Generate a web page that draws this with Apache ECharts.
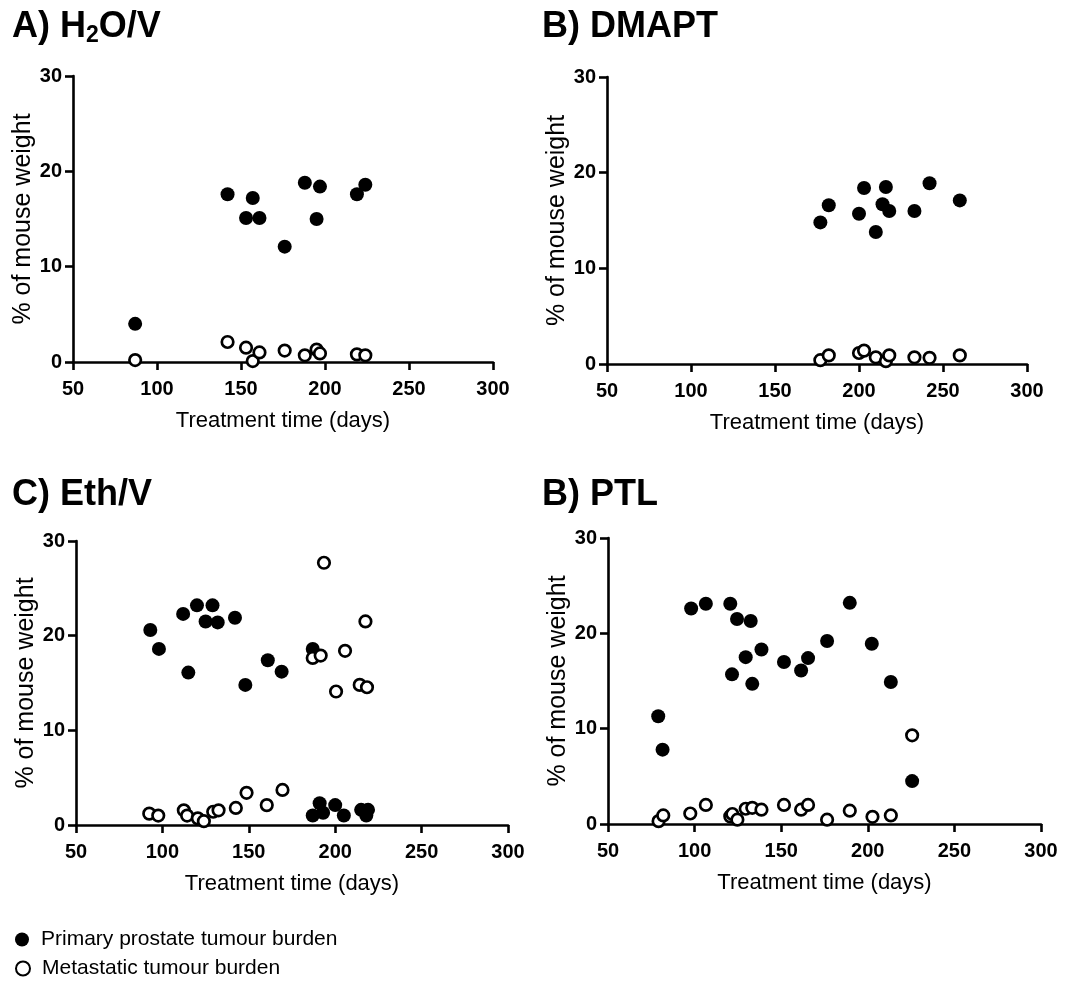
<!DOCTYPE html>
<html>
<head>
<meta charset="utf-8">
<title>Tumour burden over treatment time</title>
<script src="https://cdn.jsdelivr.net/npm/echarts@6/dist/echarts.min.js"></script>
<style>
  html, body { margin: 0; padding: 0; background: #fff; }
  #chart { width: 1068px; height: 982px; }
</style>
</head>
<body>
<div id="chart"></div>
<script>
// Panel titles
const panelTitles = ['{m|A) H}{s|2}{m|O/V}', '{m|B) DMAPT}', '{m|C) Eth/V}', '{m|B) PTL}'];

// Axis ticks
const xTicks = [50, 100, 150, 200, 250, 300];
const yTicks = [0, 10, 20, 30];

// Series names
const primaryName = 'Primary prostate tumour burden';
const metName = 'Metastatic tumour burden';

// A) H2O/V
const aPrimaryDays = [87, 142, 153, 157, 161, 176, 188, 195, 197, 219, 224];
const aPrimaryPct  = [4.0, 17.6, 15.1, 17.2, 15.1, 12.1, 18.8, 15.0, 18.4, 17.6, 18.6];
const aMetDays     = [87, 142, 153, 157, 161, 176, 188, 195, 197, 219, 224];
const aMetPct      = [0.2, 2.1, 1.5, 0.1, 1.0, 1.2, 0.7, 1.3, 0.9, 0.8, 0.7];

// B) DMAPT
const bPrimaryDays = [177, 182, 200, 203, 210, 214, 216, 218, 233, 242, 260];
const bPrimaryPct  = [14.8, 16.6, 15.7, 18.4, 13.8, 16.7, 18.5, 16.0, 16.0, 18.9, 17.1];
const bMetDays     = [177, 182, 200, 203, 210, 216, 218, 233, 242, 260];
const bMetPct      = [0.4, 0.9, 1.15, 1.4, 0.7, 0.3, 0.9, 0.7, 0.65, 0.9];

// C) Eth/V
const cPrimaryDays = [93, 98, 112, 115, 120, 125, 129, 132, 142, 148, 161, 169, 187,
                      187, 191, 193, 200, 205, 215, 219, 218];
const cPrimaryPct  = [20.6, 18.6, 22.3, 16.1, 23.2, 21.5, 23.2, 21.4, 21.9, 14.8, 17.4, 16.2, 18.6,
                      1.0, 2.3, 1.3, 2.1, 1.0, 1.6, 1.6, 1.0];
const cMetDays     = [193.5, 187, 191.6, 205.7, 200.5, 217.5, 214.2, 218.4,
                      92.4, 97.6, 112.4, 114.3, 120.5, 124, 129.4, 132.5, 142.5, 148.7, 160.4, 169.5];
const cMetPct      = [27.7, 17.65, 17.9, 18.4, 14.1, 21.5, 14.8, 14.55,
                      1.2, 1.0, 1.55, 1.0, 0.7, 0.4, 1.4, 1.55, 1.8, 3.4, 2.1, 3.7];

// B) PTL
const dPrimaryDays = [79, 81.5, 98, 106.5, 120.6, 124.5, 132.4, 129.5, 138.6, 121.6, 133.3,
                      151.6, 161.5, 165.5, 176.5, 189.6, 202.3, 213.3, 225.6];
const dPrimaryPct  = [11.3, 7.8, 22.6, 23.1, 23.1, 21.5, 21.3, 17.5, 18.3, 15.7, 14.7,
                      17.0, 16.1, 17.4, 19.2, 23.2, 18.9, 14.9, 4.5];
const dMetDays     = [225.6, 79.2, 81.9, 97.5, 106.5, 120.6, 121.8, 124.7, 129.5, 133.3, 138.6,
                      151.6, 161.5, 165.5, 176.5, 189.6, 202.7, 213.3];
const dMetPct      = [9.3, 0.3, 0.9, 1.1, 2.0, 0.8, 1.05, 0.45, 1.6, 1.7, 1.5,
                      2.0, 1.5, 2.0, 0.45, 1.4, 0.75, 0.9];

const FONT = '"Liberation Sans", Arial, Helvetica, sans-serif';
const INK = '#000';
const AXIS_W = 2.6;

// Layout of the four panels (plot area in px) and their title anchors
const layout = [
  { grid: { left: 73,  top: 76,  width: 420, height: 286 }, title: { left: 12,  top: 7 } },
  { grid: { left: 607, top: 77,  width: 420, height: 287 }, title: { left: 542, top: 7 } },
  { grid: { left: 76,  top: 541, width: 432, height: 284 }, title: { left: 12,  top: 475 } },
  { grid: { left: 608, top: 538, width: 433, height: 286 }, title: { left: 542, top: 475 } }
];

const panelData = [
  [aPrimaryDays, aPrimaryPct, aMetDays, aMetPct],
  [bPrimaryDays, bPrimaryPct, bMetDays, bMetPct],
  [cPrimaryDays, cPrimaryPct, cMetDays, cMetPct],
  [dPrimaryDays, dPrimaryPct, dMetDays, dMetPct]
];

const zip = (xs, ys) => xs.map((x, i) => [x, ys[i]]);

const titleRich = {
  m: { fontSize: 36, fontWeight: 'bold', fontFamily: FONT, color: INK, lineHeight: 40 },
  s: { fontSize: 23, fontWeight: 'bold', fontFamily: FONT, color: INK, lineHeight: 12, verticalAlign: 'bottom' }
};

const legendStyle = {
  orient: 'vertical',
  left: 15,
  padding: 0,
  itemWidth: 28,
  itemHeight: 14,
  selectedMode: false,
  textStyle: { fontSize: 21, color: INK, fontFamily: FONT }
};

const option = {
  animation: false,
  backgroundColor: '#fff',
  title: layout.map((l, i) => ({
    text: panelTitles[i],
    left: l.title.left,
    top: l.title.top,
    padding: 0,
    textStyle: { rich: titleRich }
  })),
  grid: layout.map(l => Object.assign({ containLabel: false }, l.grid)),
  xAxis: layout.map((l, i) => ({
    type: 'value',
    gridIndex: i,
    min: xTicks[0],
    max: xTicks[xTicks.length - 1],
    interval: xTicks[1] - xTicks[0],
    name: 'Treatment time (days)',
    nameLocation: 'middle',
    nameGap: 48,
    nameTextStyle: { fontSize: 22, color: INK, fontFamily: FONT },
    axisLine: { show: true, onZero: false, lineStyle: { color: INK, width: AXIS_W } },
    axisTick: { show: true, inside: false, length: 8, lineStyle: { color: INK, width: AXIS_W } },
    axisLabel: { color: INK, fontSize: 20, fontWeight: 'bold', fontFamily: FONT, margin: 17 },
    splitLine: { show: false }
  })),
  yAxis: layout.map((l, i) => ({
    type: 'value',
    gridIndex: i,
    min: yTicks[0],
    max: yTicks[yTicks.length - 1],
    interval: yTicks[1] - yTicks[0],
    name: '% of mouse weight',
    nameLocation: 'middle',
    nameGap: 37,
    nameTextStyle: { fontSize: 25, color: INK, fontFamily: FONT },
    axisLine: { show: true, onZero: false, lineStyle: { color: INK, width: AXIS_W } },
    axisTick: { show: true, inside: false, length: 8, lineStyle: { color: INK, width: AXIS_W } },
    axisLabel: { color: INK, fontSize: 20, fontWeight: 'bold', fontFamily: FONT, margin: 11 },
    splitLine: { show: false }
  })),
  legend: [
    Object.assign({ top: 929, data: [primaryName] }, legendStyle),
    Object.assign({ top: 958, data: [metName] }, legendStyle)
  ],
  series: []
};

// Filled markers first, open markers on top
panelData.forEach((d, i) => {
  option.series.push({
    name: primaryName,
    type: 'scatter',
    xAxisIndex: i,
    yAxisIndex: i,
    symbol: 'circle',
    symbolSize: 14,
    itemStyle: { color: INK, opacity: 1 },
    emphasis: { disabled: true },
    data: zip(d[0], d[1])
  });
});
panelData.forEach((d, i) => {
  option.series.push({
    name: metName,
    type: 'scatter',
    xAxisIndex: i,
    yAxisIndex: i,
    symbol: 'circle',
    symbolSize: 11.5,
    itemStyle: { color: '#fff', borderColor: INK, borderWidth: 2.7, opacity: 1 },
    emphasis: { disabled: true },
    data: zip(d[2], d[3])
  });
});

const chart = echarts.init(document.getElementById('chart'), null, { renderer: 'canvas' });
chart.setOption(option);
</script>
</body>
</html>
